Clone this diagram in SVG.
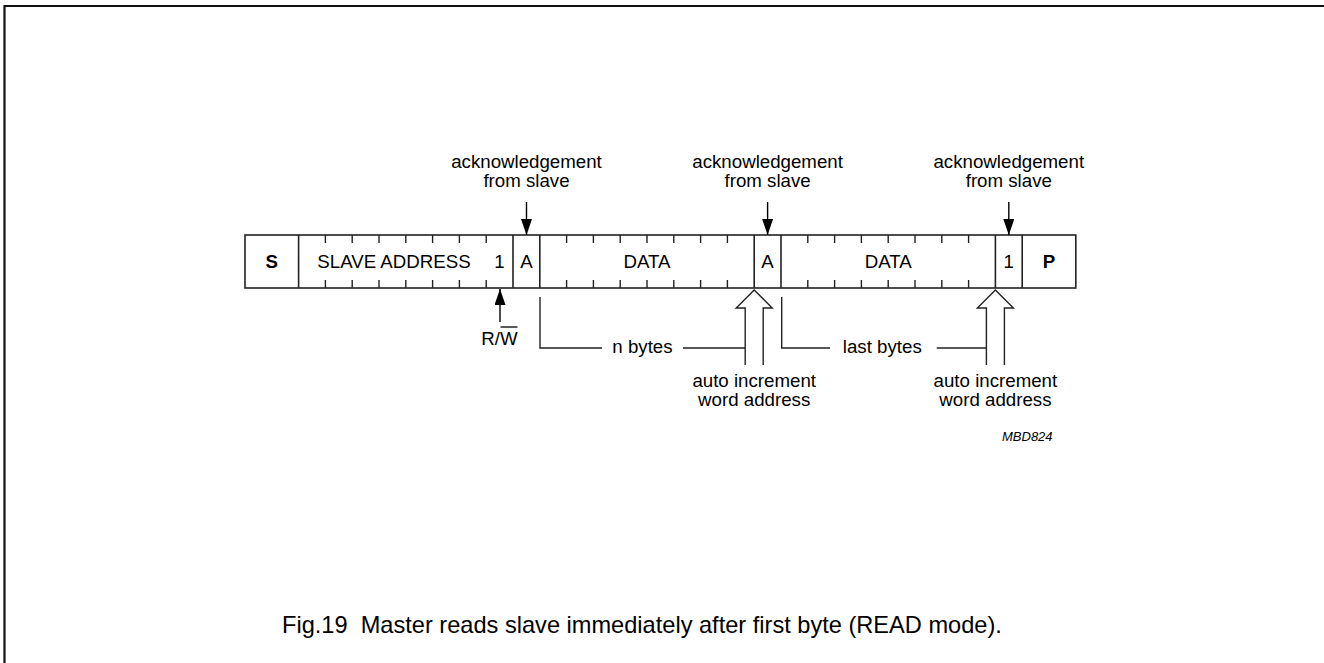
<svg xmlns="http://www.w3.org/2000/svg" width="1324" height="663" viewBox="0 0 1324 663">
<style>
text{font-family:"Liberation Sans",Arial,sans-serif;fill:#000}
.l{font-size:18.7px}
.c{text-anchor:middle}
.b{font-weight:bold}
.ln{stroke:#222;stroke-width:1.6;fill:none}
.tk{stroke:#222;stroke-width:1.4}
.hl{stroke:#222;stroke-width:1.4;fill:#fff}
.ar{stroke:#000;stroke-width:1.4;marker-end:url(#ah)}
</style>
<defs>
<marker id="ah" viewBox="0 0 16 11" refX="16" refY="5.5" markerWidth="16" markerHeight="11" markerUnits="userSpaceOnUse" orient="auto">
<path d="M0,0 L16,5.5 L0,11 Z" fill="#000"/>
</marker>
</defs>
<rect width="1324" height="663" fill="#fff"/>
<path d="M4.5,663 V6 H1324" stroke="#111" stroke-width="2.2" fill="none"/>

<g id="frame">
<rect x="245" y="235" width="830.8" height="53" class="ln"/>
<path class="ln" d="M298.6,235V288 M513,235V288 M539.8,235V288 M754.2,235V288 M781,235V288 M995.4,235V288 M1022.2,235V288"/>
<path class="tk" d="M325.4,235v8 M352.2,235v8 M379,235v8 M405.8,235v8 M432.6,235v8 M459.4,235v8 M486.2,235v8
M325.4,288v-8 M352.2,288v-8 M379,288v-8 M405.8,288v-8 M432.6,288v-8 M459.4,288v-8 M486.2,288v-8
M566.6,235v8 M593.4,235v8 M620.2,235v8 M647,235v8 M673.8,235v8 M700.6,235v8 M727.4,235v8
M566.6,288v-8 M593.4,288v-8 M620.2,288v-8 M647,288v-8 M673.8,288v-8 M700.6,288v-8 M727.4,288v-8
M807.8,235v8 M834.6,235v8 M861.4,235v8 M888.2,235v8 M915,235v8 M941.8,235v8 M968.6,235v8
M807.8,288v-8 M834.6,288v-8 M861.4,288v-8 M888.2,288v-8 M915,288v-8 M941.8,288v-8 M968.6,288v-8"/>
</g>
<g id="cell-S"><text class="l c b" x="271.8" y="268">S</text></g>
<g id="cell-slave-address"><text class="l c" x="394" y="268">SLAVE ADDRESS</text><text class="l c" x="499.4" y="268">1</text></g>
<g id="cell-A1"><text class="l c" x="526.4" y="268">A</text></g>
<g id="cell-data1"><text class="l c" x="647" y="268">DATA</text></g>
<g id="cell-A2"><text class="l c" x="767.6" y="268">A</text></g>
<g id="cell-data2"><text class="l c" x="888.2" y="268">DATA</text></g>
<g id="cell-1"><text class="l c" x="1008.8" y="268">1</text></g>
<g id="cell-P"><text class="l c b" x="1049" y="268">P</text></g>

<g id="ack1"><text class="l c" x="526.5" y="168">acknowledgement</text><text class="l c" x="526.5" y="187">from slave</text></g>
<g id="ack2"><text class="l c" x="767.6" y="168">acknowledgement</text><text class="l c" x="767.6" y="187">from slave</text></g>
<g id="ack3"><text class="l c" x="1008.8" y="168">acknowledgement</text><text class="l c" x="1008.8" y="187">from slave</text></g>
<g id="rw"><text class="l c" x="499.5" y="345">R/W</text><line x1="500.5" y1="327" x2="517.5" y2="327" stroke="#000" stroke-width="1.3"/></g>
<g id="nbytes"><text class="l c" x="642.5" y="353">n bytes</text></g>
<g id="lastbytes"><text class="l c" x="882.3" y="353">last bytes</text></g>
<g id="auto1"><text class="l c" x="754.2" y="387">auto increment</text><text class="l c" x="754.2" y="406">word address</text></g>
<g id="auto2"><text class="l c" x="995.4" y="387">auto increment</text><text class="l c" x="995.4" y="406">word address</text></g>
<g id="ref"><text x="1002" y="441" font-size="13" font-style="italic">MBD824</text></g>
<g id="caption"><text x="282" y="633" font-size="23.6" xml:space="preserve">Fig.19  Master reads slave immediately after first byte (READ mode).</text></g>

<g id="connectors">
<line class="ar" x1="526.5" y1="202" x2="526.5" y2="235"/>
<line class="ar" x1="767.6" y1="202" x2="767.6" y2="235"/>
<line class="ar" x1="1008.8" y1="202" x2="1008.8" y2="235"/>
<line class="ar" x1="500" y1="322" x2="500" y2="289"/>
<path class="tk" fill="none" d="M540,297 V348 H602 M683,348 H745.2"/>
<path class="tk" fill="none" d="M781.7,297 V348 H830 M936.7,348 H986.4"/>
<path class="hl" d="M745.2,365 V308 H736.2 L754.2,290 L772.2,308 H763.2 V365"/>
<path class="hl" d="M986.4,365 V308 H977.4 L995.4,290 L1013.4,308 H1004.4 V365"/>
</g>
</svg>
